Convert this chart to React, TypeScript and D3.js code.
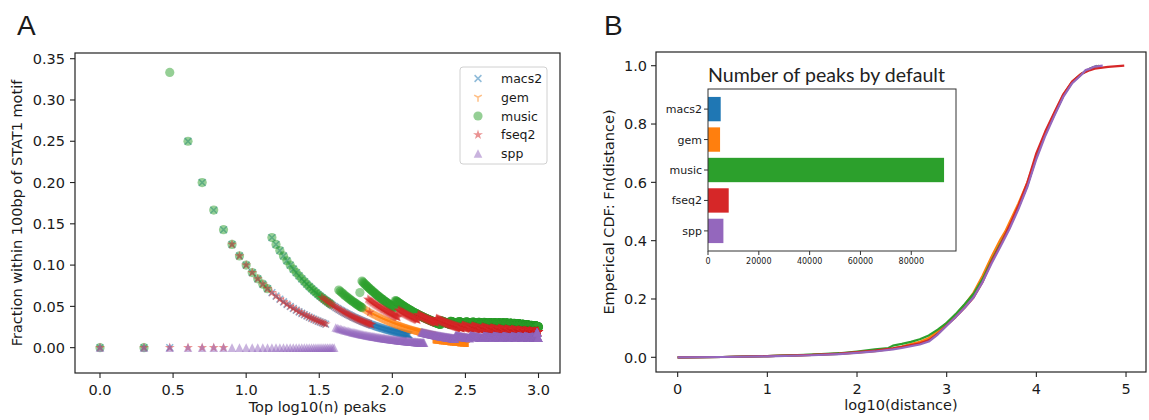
import React from 'react';
import * as d3 from 'd3';

// ---------------- DATA ----------------
const SERIES = ['macs2', 'gem', 'music', 'fseq2', 'spp'];
const COLORS = ['#1f77b4', '#ff7f0e', '#2ca02c', '#d62728', '#9467bd'];
const MARKERS = ['x', 'tri', 'circle', 'star', 'triangle'];

// Panel A: runs of [n (top-n peaks), hits within 100bp] breakpoints.
// fraction = hits / n, plotted at log10(n)
const macs2Runs = [
  [[1, 0], [4, 1], [35, 1]],
  [[15, 2], [130, 2]],
];
const gemRuns = [
  [[58, 3], [190, 2], [330, 2]],
];
const musicRuns = [
  [[1, 0], [3, 1], [15, 2], [38, 2]],
  [[43, 3], [62, 3]],
  [[60, 4], [60, 4]],
  [[62, 5], [105, 6], [215, 7], [250, 8], [285, 9], [320, 10], [355, 11], [390, 12], [425, 13], [460, 14], [495, 15],
   [530, 16], [565, 17], [600, 18], [640, 19], [680, 20], [725, 21], [775, 22], [830, 23], [890, 24], [950, 25], [1000, 25]],
];
const fseq2Runs = [
  [[1, 0], [8, 1], [35, 1]],
  [[33, 2], [72, 2]],
  [[70, 3], [70, 3]],
  [[68, 4], [110, 5], [150, 6], [200, 7], [300, 8], [350, 9], [410, 10], [470, 11], [530, 12], [590, 13], [650, 14],
   [720, 15], [790, 16], [860, 17], [930, 18], [975, 19], [1000, 19]],
];
const sppRuns = [
  [[1, 0], [41, 1], [165, 1]],
  [[158, 3], [270, 4], [340, 5], [420, 6], [490, 7], [570, 8], [650, 9], [720, 10], [800, 11], [900, 12], [1000, 12]],
  [[970, 18], [985, 18]],
];
const A_RUNS = [macs2Runs, gemRuns, musicRuns, fseq2Runs, sppRuns];
const A_X_TICKS = [0, 0.5, 1.0, 1.5, 2.0, 2.5, 3.0];
const A_Y_TICKS = [0, 0.05, 0.1, 0.15, 0.2, 0.25, 0.3, 0.35];

// Panel B: empirical CDF [log10(distance), Fn]
const cdfMacs2 = [[0,0],[0.5,0.001],[1,0.004],[1.5,0.008],[1.8,0.012],[2,0.017],[2.2,0.022],[2.4,0.03],[2.5,0.036],[2.6,0.043],[2.7,0.05],[2.8,0.062],[2.9,0.085],[3,0.114],[3.1,0.143],[3.2,0.175],[3.3,0.212],[3.4,0.265],[3.5,0.33],[3.6,0.388],[3.7,0.445],[3.8,0.515],[3.9,0.59],[4,0.688],[4.1,0.768],[4.2,0.832],[4.3,0.897],[4.4,0.943],[4.5,0.97],[4.55,0.982],[4.6,0.99],[4.68,1.0]];
const cdfGem = [[0,0],[0.5,0.001],[1,0.004],[1.5,0.008],[1.8,0.012],[2,0.016],[2.2,0.021],[2.4,0.03],[2.5,0.037],[2.6,0.045],[2.7,0.053],[2.8,0.066],[2.9,0.09],[3,0.117],[3.1,0.146],[3.2,0.18],[3.3,0.222],[3.4,0.28],[3.5,0.345],[3.6,0.405],[3.65,0.43],[3.7,0.462],[3.8,0.528],[3.9,0.6],[4,0.69],[4.1,0.77],[4.2,0.836],[4.3,0.9],[4.4,0.945],[4.5,0.972],[4.6,0.99],[4.7,1.0]];
const cdfMusic = [[0,0],[0.5,0.001],[1,0.004],[1.5,0.009],[1.8,0.014],[2,0.02],[2.2,0.027],[2.35,0.032],[2.4,0.04],[2.5,0.046],[2.6,0.053],[2.7,0.062],[2.8,0.075],[2.9,0.095],[3,0.118],[3.1,0.148],[3.2,0.182],[3.3,0.218],[3.4,0.268],[3.5,0.332],[3.6,0.39],[3.7,0.447],[3.8,0.515],[3.9,0.59],[4,0.688],[4.1,0.768],[4.2,0.833],[4.3,0.898],[4.4,0.944],[4.5,0.971],[4.6,0.99],[4.7,1.0]];
const cdfFseq2 = [[0,0],[0.5,0.001],[1,0.004],[1.5,0.008],[1.8,0.013],[2,0.018],[2.2,0.023],[2.4,0.031],[2.5,0.036],[2.6,0.042],[2.7,0.048],[2.8,0.058],[2.9,0.08],[3,0.11],[3.1,0.138],[3.2,0.17],[3.3,0.205],[3.4,0.258],[3.5,0.328],[3.6,0.386],[3.7,0.45],[3.8,0.52],[3.9,0.6],[4,0.7],[4.1,0.775],[4.2,0.84],[4.3,0.902],[4.4,0.946],[4.5,0.972],[4.6,0.985],[4.65,0.99],[4.8,0.996],[4.98,1.0]];
const cdfSpp = [[0,0],[0.5,0.001],[1,0.003],[1.5,0.007],[1.8,0.011],[2,0.015],[2.2,0.02],[2.4,0.027],[2.5,0.032],[2.6,0.038],[2.7,0.044],[2.8,0.054],[2.9,0.078],[3,0.108],[3.1,0.138],[3.2,0.17],[3.3,0.206],[3.4,0.258],[3.5,0.322],[3.6,0.38],[3.7,0.44],[3.8,0.508],[3.9,0.585],[4,0.68],[4.1,0.76],[4.2,0.828],[4.3,0.893],[4.4,0.94],[4.5,0.968],[4.55,0.985],[4.6,0.99],[4.65,0.997],[4.74,1.0]];
const B_CDFS = [cdfMacs2, cdfGem, cdfMusic, cdfFseq2, cdfSpp];
const B_X_TICKS = [0, 1, 2, 3, 4, 5];
const B_Y_TICKS = [0, 0.2, 0.4, 0.6, 0.8, 1.0];

// Inset: number of peaks by default
const PEAK_COUNTS = [5000, 4750, 92900, 8150, 6060];
const INSET_X_TICKS = [0, 20000, 40000, 60000, 80000];

// ---------------- HELPERS ----------------
const FONT = "'DejaVu Sans', sans-serif";
const TXT = '#1a1a1a';

function expandRuns(runs: number[][][]) {
  const pts: { n: number; h: number }[] = [];
  for (const run of runs) {
    for (let i = 0; i < run.length; i++) {
      const [n0, h] = run[i];
      const nEnd = i < run.length - 1 ? run[i + 1][0] - 1 : n0;
      for (let n = n0; n <= nEnd; n++) pts.push({ n, h });
    }
  }
  return pts;
}

function markerPath(kind: string) {
  if (kind === 'x') { const s = 3.4; return `M${-s},${-s}L${s},${s}M${-s},${s}L${s},${-s}`; }
  if (kind === 'tri') { const s = 4.4; return `M0,0L0,${s}M0,0L${-0.866 * s},${-0.5 * s}M0,0L${0.866 * s},${-0.5 * s}`; }
  if (kind === 'circle') { const r = 4.6; return `M${r},0A${r},${r} 0 1,1 ${-r},0A${r},${r} 0 1,1 ${r},0Z`; }
  if (kind === 'star') {
    const R = 5.2, r = R * 0.382; let d = '';
    for (let i = 0; i < 10; i++) {
      const a = -Math.PI / 2 + (i * Math.PI) / 5; const rr = i % 2 === 0 ? R : r;
      d += (i === 0 ? 'M' : 'L') + (rr * Math.cos(a)).toFixed(2) + ',' + (rr * Math.sin(a)).toFixed(2);
    }
    return d + 'Z';
  }
  const s = 4.3; return `M0,${-s}L${s},${s}L${-s},${s}Z`;
}
const isStroked = (k: string) => k === 'x' || k === 'tri';

function Marker({ kind, color, x, y }: { kind: string; color: string; x: number; y: number }) {
  const d = markerPath(kind);
  return isStroked(kind)
    ? <path d={d} transform={`translate(${x},${y})`} fill="none" stroke={color} strokeWidth={1.5} strokeOpacity={0.5} />
    : <path d={d} transform={`translate(${x},${y})`} fill={color} fillOpacity={0.5} stroke="none" />;
}

export default function App() {
  // Panel A scales
  const xA = d3.scaleLinear().domain([-0.171, 3.147]).range([75, 560]);
  const yA = d3.scaleLinear().domain([-0.0307, 0.3569]).range([373, 53]);
  // Panel B scales
  const xB = d3.scaleLinear().domain([-0.2417, 5.2227]).range([656, 1146]);
  const yB = d3.scaleLinear().domain([-0.0504, 1.047]).range([372, 52]);
  // Inset scales
  const xI = d3.scaleLinear().domain([0, 97600]).range([708, 956]);
  const yI = d3.scaleLinear().domain([-0.66, 4.66]).range([89, 251]);
  const barH = (yI(0.4) - yI(-0.4));

  const line = d3.line<number[]>().x(d => xB(d[0])).y(d => yB(d[1]));

  return (
    <svg width={1149} height={420} style={{ position: 'absolute', left: 0, top: 0, background: '#fff' }}
      fontFamily={FONT}>
      <rect x={0} y={0} width={1149} height={420} fill="#fff" />
      {/* ===== Panel A ===== */}
      <text x={17} y={35} fontSize={28} fontFamily="'Liberation Sans', Arial, sans-serif" fill={TXT}>A</text>
      <g>
        {A_RUNS.map((runs, si) => (
          <g key={si}>
            {expandRuns(runs).map((p, i) => (
              <Marker key={i} kind={MARKERS[si]} color={COLORS[si]} x={xA(Math.log10(p.n))} y={yA(p.h / p.n)} />
            ))}
          </g>
        ))}
      </g>
      <rect x={75} y={53} width={485} height={320} fill="none" stroke="#222" strokeWidth={1.2} />
      {A_X_TICKS.map(t => (
        <g key={t}>
          <line x1={xA(t)} x2={xA(t)} y1={373} y2={378} stroke="#222" strokeWidth={1.1} />
          <text x={xA(t)} y={395} fontSize={14.5} textAnchor="middle" fill={TXT}>{t.toFixed(1)}</text>
        </g>
      ))}
      {A_Y_TICKS.map(t => (
        <g key={t}>
          <line x1={70} x2={75} y1={yA(t)} y2={yA(t)} stroke="#222" strokeWidth={1.1} />
          <text x={65} y={yA(t) + 5.2} fontSize={14.5} textAnchor="end" fill={TXT}>{t.toFixed(2)}</text>
        </g>
      ))}
      <text x={317.5} y={412} fontSize={14.5} textAnchor="middle" fill={TXT}>Top log10(n) peaks</text>
      <text transform="translate(22,213) rotate(-90)" fontSize={14.5} textAnchor="middle" fill={TXT}>
        Fraction within 100bp of STAT1 motif</text>
      {/* legend */}
      <rect x={460} y={67} width={87} height={97} rx={3} fill="#fff" fillOpacity={0.8} stroke="#d0d0d0" strokeWidth={1} />
      {SERIES.map((s, i) => (
        <g key={s}>
          <Marker kind={MARKERS[i]} color={COLORS[i]} x={478} y={78.5 + i * 18.75} />
          <text x={501} y={78.5 + i * 18.75 + 4.5} fontSize={12.5} fill={TXT}>{s}</text>
        </g>
      ))}

      {/* ===== Panel B ===== */}
      <text x={604} y={35} fontSize={28} fontFamily="'Liberation Sans', Arial, sans-serif" fill={TXT}>B</text>
      {B_CDFS.map((c, i) => (
        <path key={i} d={line(c) || ''} fill="none" stroke={COLORS[i]} strokeWidth={2.2} strokeLinejoin="round" />
      ))}
      <rect x={656} y={52} width={490} height={320} fill="none" stroke="#222" strokeWidth={1.2} />
      {B_X_TICKS.map(t => (
        <g key={t}>
          <line x1={xB(t)} x2={xB(t)} y1={372} y2={377} stroke="#222" strokeWidth={1.1} />
          <text x={xB(t)} y={394} fontSize={14.5} textAnchor="middle" fill={TXT}>{t}</text>
        </g>
      ))}
      {B_Y_TICKS.map(t => (
        <g key={t}>
          <line x1={651} x2={656} y1={yB(t)} y2={yB(t)} stroke="#222" strokeWidth={1.1} />
          <text x={647} y={yB(t) + 5.2} fontSize={14.5} textAnchor="end" fill={TXT}>{t.toFixed(1)}</text>
        </g>
      ))}
      <text x={901} y={410} fontSize={14.5} textAnchor="middle" fill={TXT}>log10(distance)</text>
      <text transform="translate(614,212) rotate(-90)" fontSize={14.5} textAnchor="middle" fill={TXT}>
        Emperical CDF: Fn(distance)</text>

      {/* inset */}
      <text x={826.5} y={82} fontSize={20} textAnchor="middle" fill="#222"
        fontFamily="Lato, 'Open Sans', sans-serif" textLength={237} lengthAdjust="spacingAndGlyphs">
        Number of peaks by default</text>
      <rect x={708} y={89} width={248} height={162} fill="#fff" />
      {PEAK_COUNTS.map((v, i) => (
        <rect key={i} x={xI(0)} y={yI(i) - barH / 2} width={xI(v) - xI(0)} height={barH} fill={COLORS[i]} />
      ))}
      <rect x={708} y={89} width={248} height={162} fill="none" stroke="#333" strokeWidth={1} />
      {SERIES.map((s, i) => (
        <g key={s}>
          <line x1={704} x2={708} y1={yI(i)} y2={yI(i)} stroke="#333" strokeWidth={1} />
          <text x={702} y={yI(i) + 4} fontSize={11} textAnchor="end" fill={TXT}>{s}</text>
        </g>
      ))}
      {INSET_X_TICKS.map(t => (
        <g key={t}>
          <line x1={xI(t)} x2={xI(t)} y1={251} y2={255} stroke="#333" strokeWidth={1} />
          <text x={xI(t)} y={264} fontSize={8} textAnchor="middle" fill={TXT}>{t}</text>
        </g>
      ))}
    </svg>
  );
}
